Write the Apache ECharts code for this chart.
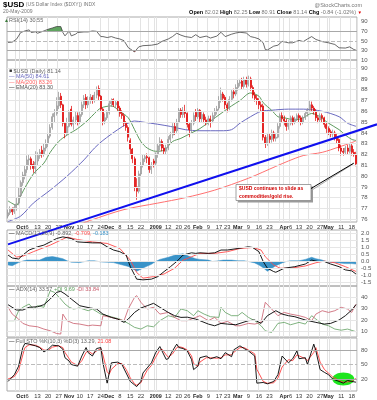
<!DOCTYPE html>
<html>
<head>
<meta charset="utf-8">
<script src="https://cdn.jsdelivr.net/npm/echarts@6/dist/echarts.min.js"></script>
<style>
html, body { margin: 0; padding: 0; background: #fff; }
#chart { width: 377px; height: 400px; }
</style>
</head>
<body>
<div id="chart"></div>
<script>
// 交易日 (2008-09-23 ~ 2009-05-20, 去掉周末和假日)
var holidays = ['2008-11-27', '2008-12-25', '2009-01-01', '2009-01-19', '2009-02-16', '2009-04-10'];
var days = [];
(function () {
    var d = new Date(Date.UTC(2008, 8, 23));
    var end = Date.UTC(2009, 4, 20);
    while (d.getTime() <= end) {
        var s = d.toISOString().slice(0, 10);
        var wd = d.getUTCDay();
        if (wd !== 0 && wd !== 6 && holidays.indexOf(s) < 0) days.push(s);
        d.setUTCDate(d.getUTCDate() + 1);
    }
})();

// x轴刻度标签
var tickDates = ['2008-10-01', '2008-10-06', '2008-10-13', '2008-10-20', '2008-10-27', '2008-11-03', '2008-11-10', '2008-11-17', '2008-11-24',
    '2008-12-01', '2008-12-08', '2008-12-15', '2008-12-22', '2009-01-02', '2009-01-12', '2009-01-20', '2009-01-26', '2009-02-02',
    '2009-02-09', '2009-02-17', '2009-02-23', '2009-03-02', '2009-03-09', '2009-03-16', '2009-03-23', '2009-04-01', '2009-04-06',
    '2009-04-13', '2009-04-20', '2009-04-27', '2009-05-01', '2009-05-11', '2009-05-18'];
var tickTexts = ['Oct', '6', '13', '20', '27', 'Nov', '10', '17', '24', 'Dec', '8', '15', '22', '2009', '12', '20', '26', 'Feb',
    '9', '17', '23', 'Mar', '9', '16', '23', 'Apr', '6', '13', '20', '27', 'May', '11', '18'];
var priceTicks = [76, 77, 78, 79, 80, 81, 82, 83, 84, 85, 86, 87, 88, 89, 90];

// 日K数据
var opens = [76.3, 76.6, 76.9, 76.7, 77.1, 77.5, 78.2, 79.4, 80.0, 80.6,
    81.5, 81.6, 81.1, 80.7, 81.4, 81.9, 82.4, 82.0, 82.6, 83.0,
    83.7, 84.5, 85.5, 85.8, 86.5, 87.4, 86.6, 84.9, 84.0, 84.6,
    86.2, 84.8, 85.2, 85.6, 85.0, 85.7, 86.6, 87.3, 86.6, 87.0,
    87.3, 87.0, 87.5, 88.1, 87.4, 86.2, 85.1, 85.4, 85.9, 86.7,
    87.1, 86.6, 86.9, 86.3, 85.8, 85.6, 84.9, 84.5, 83.3, 82.5,
    81.6, 79.0, 78.6, 80.2, 81.0, 81.6, 81.8, 81.7, 80.6, 81.4,
    81.2, 82.0, 82.8, 83.2, 82.6, 82.3, 82.6, 83.4, 83.8, 84.6,
    84.2, 85.0, 86.1, 85.7, 86.0, 85.8, 84.8, 84.3, 84.9, 85.9,
    85.5, 86.1, 85.3, 85.7, 85.2, 85.0, 85.3, 85.1, 85.6, 86.0,
    86.3, 87.0, 87.6, 87.3, 86.6, 86.3, 87.1, 87.8, 87.6, 88.2,
    88.6, 88.8, 88.3, 88.9, 88.5, 89.0, 88.2, 87.5, 87.2, 87.0,
    86.6, 86.5, 83.6, 83.0, 83.7, 83.4, 84.0, 83.5, 83.6, 84.6,
    85.6, 85.3, 85.1, 84.6, 84.9, 85.4, 85.0, 85.3, 85.6, 85.4,
    85.0, 85.4, 85.8, 86.1, 86.6, 86.3, 86.0, 85.4, 85.2, 85.6,
    85.4, 84.8, 84.4, 84.1, 83.9, 84.0, 83.6, 83.4, 82.6, 82.3,
    82.2, 82.6, 82.3, 82.8, 82.2, 82.02];
var closes = [76.6, 76.9, 76.7, 77.1, 77.4, 78.2, 79.4, 80.1, 80.6, 81.5,
    81.6, 81.0, 80.7, 81.3, 81.9, 82.2, 82.0, 82.6, 83.0, 83.7,
    84.5, 85.5, 85.8, 86.5, 87.3, 86.6, 84.9, 84.0, 84.6, 85.9,
    84.8, 85.2, 85.6, 85.0, 85.7, 86.6, 87.2, 86.6, 87.0, 87.3,
    87.0, 87.5, 88.0, 87.4, 86.2, 85.1, 85.4, 85.9, 86.7, 86.9,
    86.6, 86.8, 86.3, 85.8, 85.6, 84.9, 84.5, 83.6, 82.5, 81.6,
    79.0, 78.6, 80.2, 81.0, 81.6, 81.8, 81.7, 80.6, 81.0, 81.2,
    82.0, 82.8, 83.2, 82.6, 82.3, 82.6, 83.4, 83.8, 84.6, 84.2,
    85.0, 86.1, 85.7, 86.0, 85.8, 84.8, 84.3, 84.9, 85.6, 85.5,
    86.1, 85.3, 85.7, 85.2, 85.0, 85.3, 85.1, 85.6, 86.0, 86.2,
    87.0, 87.6, 87.2, 86.6, 86.3, 87.1, 87.8, 87.6, 88.2, 88.6,
    88.7, 88.3, 88.9, 88.5, 89.0, 88.2, 87.5, 87.2, 87.0, 86.6,
    86.4, 83.6, 83.0, 83.6, 83.4, 84.0, 83.5, 83.6, 84.6, 85.6,
    85.3, 85.1, 84.6, 84.9, 85.4, 85.0, 85.3, 85.6, 85.4, 85.0,
    85.4, 85.8, 86.1, 86.6, 86.3, 86.0, 85.4, 85.2, 85.6, 85.4,
    84.8, 84.4, 84.1, 83.9, 84.0, 83.6, 83.3, 82.6, 82.3, 82.2,
    82.6, 82.3, 82.8, 82.2, 81.98, 81.14];
var lows = [76.1, 76.4, 76.4, 76.5, 76.8, 77.3, 78.0, 79.1, 79.7, 80.3,
    81.0, 80.6, 80.3, 80.2, 81.0, 81.6, 81.7, 81.8, 82.3, 82.7,
    83.5, 84.3, 85.0, 85.6, 86.2, 86.3, 84.6, 83.5, 83.7, 84.5,
    84.6, 84.3, 84.8, 84.7, 84.8, 85.5, 86.3, 86.2, 86.3, 86.7,
    86.7, 86.8, 87.2, 87.0, 86.0, 84.7, 84.8, 85.2, 85.7, 86.4,
    86.4, 86.3, 86.0, 85.5, 85.3, 84.6, 84.2, 83.2, 82.0, 81.2,
    78.6, 77.8, 78.4, 80.0, 80.8, 81.3, 81.2, 80.3, 80.2, 80.8,
    81.0, 81.7, 82.4, 82.3, 82.0, 82.0, 82.4, 83.1, 83.5, 83.8,
    84.0, 84.9, 85.4, 85.4, 85.4, 84.5, 83.6, 84.0, 84.7, 85.1,
    85.3, 85.0, 85.0, 84.9, 84.7, 84.7, 84.5, 84.9, 85.3, 85.7,
    86.1, 86.8, 86.9, 86.2, 85.9, 86.1, 86.9, 87.2, 87.4, 87.9,
    88.3, 88.0, 88.1, 88.2, 88.3, 87.9, 87.2, 86.9, 86.6, 86.2,
    86.0, 83.3, 82.6, 82.8, 83.0, 83.1, 83.2, 83.2, 83.5, 84.4,
    85.0, 84.7, 84.2, 84.3, 84.7, 84.7, 84.8, 85.1, 85.0, 84.7,
    84.8, 85.2, 85.5, 85.9, 86.0, 85.7, 85.1, 84.9, 85.0, 85.0,
    84.5, 84.0, 83.8, 83.6, 83.6, 83.3, 83.0, 82.3, 81.9, 81.9,
    82.0, 82.0, 82.1, 81.9, 81.8, 80.91];
var highs = [76.9, 77.2, 77.1, 77.4, 78.0, 78.9, 79.6, 80.4, 81.0, 81.9,
    82.0, 81.8, 81.4, 82.3, 82.2, 82.5, 82.8, 83.0, 83.4, 84.0,
    84.8, 85.8, 86.2, 87.3, 87.8, 87.7, 86.7, 85.0, 85.4, 86.1,
    86.5, 85.5, 86.0, 85.9, 86.0, 86.9, 87.5, 87.6, 87.4, 87.6,
    87.5, 87.8, 88.3, 88.4, 87.5, 86.3, 85.8, 86.1, 87.0, 87.2,
    87.2, 87.0, 87.0, 86.5, 86.1, 85.8, 85.1, 84.7, 83.5, 82.6,
    81.8, 79.8, 80.5, 81.3, 82.0, 82.0, 82.1, 81.8, 81.3, 81.6,
    82.2, 83.0, 83.6, 83.4, 82.9, 82.9, 83.7, 84.1, 84.9, 85.0,
    85.3, 86.3, 86.3, 86.4, 86.6, 85.9, 85.0, 85.2, 85.9, 86.2,
    86.3, 86.2, 86.0, 85.9, 85.5, 85.6, 85.6, 85.9, 86.3, 86.5,
    87.4, 88.2, 87.8, 87.5, 86.8, 87.4, 88.0, 88.1, 88.5, 88.9,
    89.0, 89.1, 89.2, 89.2, 89.3, 89.2, 88.4, 87.8, 87.5, 87.2,
    86.9, 86.7, 83.8, 84.0, 83.9, 84.3, 84.2, 84.0, 84.9, 85.8,
    85.9, 85.6, 85.3, 85.2, 85.6, 85.6, 85.5, 85.8, 85.8, 85.6,
    85.6, 86.0, 86.3, 87.0, 86.9, 86.5, 86.2, 85.6, 85.8, 85.8,
    85.5, 85.0, 84.6, 84.3, 84.3, 84.2, 83.9, 83.5, 82.9, 82.6,
    82.8, 82.9, 83.0, 83.0, 82.5, 82.25];

// 均线 [交易日序号, 值]
var ema20 = [[0, 77.7], [4, 77.3], [6, 78.2], [12, 80.2], [17, 81.2], [20, 82.2], [24, 83.2], [28, 83.8], [33, 84.4], [38, 85.2],
    [41, 85.8], [44, 86.3], [49, 86.5], [53, 86.0], [57, 85.4], [60, 84.3], [63, 83.2], [66, 82.6], [70, 82.3], [74, 82.4],
    [78, 83.2], [82, 83.5], [87, 84.0], [91, 84.4], [96, 85.1], [101, 85.8], [106, 86.5], [110, 87.0], [115, 87.7], [119, 87.4],
    [121, 86.8], [125, 86.1], [128, 85.5], [131, 85.4], [136, 85.2], [140, 85.4], [144, 85.8], [147, 85.6], [152, 84.9],
    [157, 84.3], [160, 83.8], [163, 83.4], [165, 83.3]];
var ma50 = [[0, 75.8], [6, 76.3], [12, 77.5], [20, 78.7], [28, 80.0], [36, 81.5], [41, 82.6], [45, 83.3], [52, 84.3], [57, 84.9],
    [60, 85.1], [64, 85.0], [71, 84.8], [77, 84.6], [84, 84.3], [91, 84.2], [101, 84.2], [106, 84.3], [110, 84.9], [115, 85.5],
    [120, 86.0], [125, 86.1], [133, 86.2], [140, 86.2], [149, 86.0], [157, 85.5], [161, 84.9], [165, 84.61]];
var ma200 = [[35, 75.6], [39, 75.9], [55, 76.9], [71, 77.5], [84, 78.0], [98, 78.7], [114, 79.8], [127, 80.9], [133, 81.4],
    [140, 81.9], [149, 82.2], [157, 82.7], [163, 83.1], [165, 83.26]];
var trendAnchors = [[85, 79.08], [165, 84.16]];
var notePoint = [164, 81.2];

// RSI(14)
var rsi = [[0, 46.7], [2, 47.5], [4, 53.5], [6, 67.5], [8, 70.8], [10, 73], [11, 67.5], [13, 69], [14, 66], [17, 70.8],
    [19, 74.3], [21, 77], [23, 80], [25, 80], [26, 67.5], [27, 60.5], [29, 70.8], [30, 60.5], [32, 64], [33, 67.5],
    [36, 68.8], [38, 68.8], [40, 70.8], [42, 70], [44, 59], [45, 59], [47, 57], [49, 59], [51, 56], [53, 54],
    [55, 50.4], [57, 36], [60, 27], [62, 37.5], [64, 40], [68, 41], [71, 43.4], [73, 49], [76, 54], [78, 59],
    [80, 66], [82, 62], [84, 59], [87, 57], [89, 63], [91, 57], [94, 60], [96, 56], [99, 60], [101, 68],
    [103, 59], [106, 64], [108, 66.5], [110, 68], [113, 66.5], [115, 59], [117, 57], [119, 54], [121, 46], [122, 32],
    [123, 31], [126, 39], [128, 41], [130, 49], [133, 46], [135, 46], [138, 51], [140, 48.5], [142, 54], [144, 59],
    [146, 53], [149, 48.5], [152, 46], [155, 42.5], [157, 35.5], [160, 35], [162, 37.5], [164, 32], [165, 30.55]];
var rsiOver = [[18, 70], [19, 74.3], [21, 77], [23, 80], [25, 80], [26, 70]];
var rsiUnder = [[59, 30], [60, 27], [61, 30]];

// MACD(12,26,9)
var macdLine = [[0, 0.46], [2, 0.25], [5, 0.18], [7, 0.46], [10, 0.82], [14, 1.05], [17, 1.17], [20, 1.4], [23, 1.64], [26, 1.76],
    [28, 1.7], [30, 1.64], [33, 1.4], [37, 1.36], [40, 1.33], [44, 1.33], [47, 1.05], [50, 0.82], [53, 0.7], [56, 0.46],
    [58, -0.37], [60, -0.96], [61, -1.26], [64, -1.31], [68, -1.26], [71, -1.08], [74, -0.72], [77, -0.37], [80, 0], [83, 0.46],
    [87, 0.62], [89, 0.58], [91, 0.62], [95, 0.58], [98, 0.62], [101, 0.82], [104, 0.82], [109, 0.93], [114, 1.05], [116, 1.0],
    [119, 0.7], [121, 0], [123, -0.48], [126, -0.72], [127, -0.77], [131, -0.48], [136, -0.37], [141, -0.18], [144, 0.1],
    [147, 0], [150, 0], [153, -0.18], [157, -0.37], [160, -0.6], [163, -0.67], [165, -0.892]];
var macdSignal = [[0, 0.82], [4, 0.32], [7, 0.38], [12, 0.7], [20, 1.17], [28, 1.74], [33, 1.57], [40, 1.4], [47, 1.29], [53, 0.93],
    [58, 0.1], [61, -0.79], [64, -1.19], [69, -1.08], [74, -0.89], [79, -0.48], [83, 0.1], [87, 0.34], [91, 0.58], [98, 0.58],
    [104, 0.7], [110, 0.93], [116, 1.0], [120, 0.82], [122, 0.34], [126, -0.25], [129, -0.48], [134, -0.48], [141, -0.32],
    [146, -0.09], [150, 0.03], [155, -0.09], [160, -0.37], [165, -0.709]];
var macdHist = [[0, -0.25], [2, -0.3], [5, -0.08], [7, 0.04], [9, 0.1], [13, 0.1], [15, 0.1], [18, 0.3], [21, 0.35], [23, 0.3],
    [26, 0.2], [28, 0.05], [30, -0.05], [34, -0.08], [38, 0.05], [41, 0.05], [44, -0.03], [47, -0.05], [50, -0.08], [53, -0.2],
    [57, -0.35], [60, -0.6], [61, -0.7], [63, -0.55], [65, -0.4], [68, -0.2], [70, 0], [72, 0.15], [76, 0.3], [80, 0.5],
    [83, 0.55], [87, 0.3], [89, 0.2], [91, 0.15], [95, 0.1], [97, 0], [100, 0.05], [102, 0.1], [106, 0.1], [109, 0.05],
    [112, 0.05], [114, 0], [117, -0.1], [119, -0.25], [121, -0.45], [123, -0.7], [125, -0.5], [127, -0.3], [130, -0.1],
    [132, 0], [134, 0.05], [138, 0.05], [141, 0.15], [144, 0.3], [146, 0.2], [149, 0.1], [152, -0.05], [157, -0.1],
    [160, -0.15], [163, -0.15], [165, -0.183]];

// ADX(14)
var adx = [[0, 33.5], [4, 28.8], [7, 28.8], [10, 31.2], [14, 31.7], [17, 33.5], [20, 38.5], [23, 44.4], [25, 45.3], [27, 43],
    [30, 38.5], [34, 32.6], [39, 30.6], [42, 29.7], [45, 25.2], [49, 22.3], [52, 20.8], [55, 17.9], [57, 20.8], [60, 26.7],
    [63, 30.6], [66, 32.6], [69, 34.7], [72, 31.2], [76, 26.7], [79, 23.8], [82, 22.3], [85, 22.5], [89, 20.8], [91, 19.4],
    [95, 16.4], [98, 14.9], [101, 17], [104, 16.4], [108, 15.8], [110, 17], [114, 19.4], [117, 20], [120, 17], [123, 23.8],
    [127, 28.2], [130, 25.2], [133, 23.8], [136, 22.9], [141, 20], [146, 17.9], [150, 16.4], [153, 17], [157, 20],
    [160, 23.8], [163, 28.8], [165, 33.57]];
var plusDI = [[0, 19.4], [3, 19.4], [5, 28.2], [7, 31.2], [10, 34.1], [12, 29.7], [14, 32.6], [17, 31.2], [20, 45.9], [22, 44.4],
    [25, 38.5], [27, 34.1], [29, 31.2], [31, 29.7], [34, 30.6], [38, 28.2], [40, 29.7], [44, 25.2], [47, 23.8], [50, 22.3],
    [53, 20.8], [57, 17], [60, 13.5], [63, 12], [66, 14.9], [69, 14], [72, 19.4], [76, 23.8], [79, 22.3], [82, 29.7],
    [85, 28.2], [88, 23.8], [90, 28.2], [93, 25.2], [96, 22.9], [100, 22.3], [101, 31.2], [103, 26.7], [106, 23.8], [109, 23.8],
    [111, 26.7], [114, 22.3], [117, 19.4], [120, 14.9], [122, 10.5], [125, 9], [128, 17], [131, 17.9], [134, 15.8], [138, 17.9],
    [141, 16.4], [144, 23.8], [146, 20.8], [149, 16.4], [152, 14.9], [155, 12], [158, 11], [161, 12], [165, 9.69]];
var minusDI = [[0, 31.2], [2, 25.2], [5, 20.8], [7, 17], [10, 14.9], [14, 14], [17, 12], [20, 10.5], [23, 8.1], [25, 7.6],
    [26, 25.2], [28, 19.4], [31, 17], [34, 16.4], [38, 14.9], [40, 15.5], [44, 14.9], [45, 23.8], [49, 22.3], [52, 20.8],
    [55, 19.4], [57, 29.7], [60, 40], [61, 41.5], [63, 35.6], [66, 29.7], [69, 31.2], [72, 25.2], [76, 26.7], [79, 22.3],
    [82, 19.4], [85, 19.4], [89, 22.3], [91, 23.8], [95, 19.4], [98, 22.3], [101, 17], [104, 18.8], [108, 14.9], [110, 14.9],
    [114, 17], [117, 16.4], [120, 17.9], [122, 35.6], [125, 29.7], [128, 23.8], [131, 26.7], [134, 25.2], [138, 23.8],
    [141, 22.3], [144, 19.4], [146, 25.2], [149, 28.2], [152, 26.7], [155, 28.2], [158, 31.2], [161, 29.7], [163, 26.7],
    [165, 33.84]];

// Full STO %K(10,3) %D(3)
var stoK = [[0, 14.8], [3, 28.9], [5, 46.5], [7, 85.2], [8, 93.7], [10, 92.3], [13, 88.7], [15, 85.2], [17, 76], [19, 81.7],
    [21, 90.1], [24, 88.7], [26, 81.7], [27, 64.1], [29, 57], [30, 50], [33, 46.5], [35, 67.6], [37, 85.2], [38, 74.6],
    [40, 67.6], [42, 83.1], [44, 85.2], [45, 53.5], [47, 11.3], [48, 32.4], [49, 53.5], [52, 54.9], [54, 50], [56, 32.4],
    [58, 14.8], [60, 7.7], [61, 4.2], [63, 14.8], [64, 32.4], [66, 43], [68, 53.5], [70, 74.6], [72, 87.3], [73, 78.2],
    [75, 60.6], [76, 62], [78, 78.2], [80, 92.3], [81, 85.2], [83, 83.1], [85, 78.2], [87, 60.6], [88, 39.4], [90, 46.5],
    [91, 64.1], [94, 67.6], [96, 62], [99, 66.2], [101, 62], [103, 74.6], [106, 66.2], [107, 80.3], [110, 88.7], [112, 83.1],
    [114, 78.2], [117, 67.6], [118, 11.3], [121, 12.7], [123, 9.9], [126, 14.8], [128, 28.9], [130, 67.6], [133, 53.5],
    [135, 62], [137, 78.2], [138, 62], [141, 64.1], [142, 50], [145, 92.3], [146, 78.2], [148, 39.4], [150, 33.8], [152, 28.9],
    [154, 19.7], [157, 14.8], [159, 11.3], [161, 16.9], [163, 14.8], [165, 13.29]];
var stoD = [[0, 20], [3, 25], [5, 38], [7, 70], [8, 85], [10, 91], [13, 90], [15, 86], [17, 80], [19, 79],
    [21, 86], [24, 89], [26, 85], [27, 75], [29, 62], [30, 55], [33, 48], [35, 58], [37, 75], [38, 78],
    [40, 72], [42, 78], [44, 83], [45, 70], [47, 35], [48, 30], [49, 40], [52, 52], [54, 52], [56, 40],
    [58, 22], [60, 10], [61, 7], [63, 12], [64, 22], [66, 38], [68, 48], [70, 65], [72, 80], [73, 82],
    [75, 70], [76, 65], [78, 72], [80, 85], [81, 87], [83, 85], [85, 80], [87, 68], [88, 52], [90, 46],
    [91, 55], [94, 64], [96, 64], [99, 63], [101, 64], [103, 70], [106, 70], [107, 75], [110, 85], [112, 85],
    [114, 80], [117, 72], [118, 40], [121, 15], [123, 11], [126, 12], [128, 22], [130, 45], [133, 60],
    [135, 58], [137, 70], [138, 68], [141, 62], [142, 58], [145, 75], [146, 85], [148, 55], [150, 40], [152, 32],
    [154, 24], [157, 17], [159, 13], [161, 14], [163, 15], [165, 21.08]];
var circlePoint = [159, 20];

(function () {
    var chart = echarts.init(document.getElementById('chart'));
    var FONT = 'Liberation Sans, Arial, sans-serif';

    // 周一 / 月初 位置画竖线
    var gridDay = days.map(function (s, i) {
        if (i === 0) return false;
        var a = new Date(s + 'T00:00:00Z'), b = new Date(days[i - 1] + 'T00:00:00Z');
        return a.getUTCDay() <= b.getUTCDay() || a.getUTCMonth() !== b.getUTCMonth();
    });

    var candles = opens.map(function (o, i) {
        return [o, closes[i], lows[i], highs[i]];
    });

    var tops = [17, 60, 230, 286, 338];
    var heights = [43, 162, 56, 51, 53];
    var grids = tops.map(function (t, k) {
        return { left: 7, width: 350, top: t, height: heights[k], show: true, borderColor: '#aaa', borderWidth: 1 };
    });

    var xAxes = tops.map(function (t, k) {
        return {
            type: 'category', gridIndex: k, data: days, boundaryGap: true,
            axisLine: { show: false }, axisTick: { show: false },
            axisLabel: {
                show: k === 1 || k === 4,
                showMinLabel: true, showMaxLabel: true, hideOverlap: false,
                interval: function (i, v) { return tickDates.indexOf(v) >= 0; },
                formatter: function (v) {
                    var t = tickTexts[tickDates.indexOf(v)];
                    return /^\d{1,2}$/.test(t) ? '{n|' + t + '}' : '{m|' + t + '}';
                },
                fontSize: 5.5, color: '#333', margin: 2, fontFamily: FONT, lineHeight: 7,
                rich: {
                    m: { fontWeight: 'bold', fontSize: 5.4, lineHeight: 7, color: '#222', fontFamily: FONT },
                    n: { fontSize: 5.8, lineHeight: 7, color: '#333', fontFamily: FONT }
                }
            },
            splitLine: { show: true, interval: function (i) { return gridDay[i]; }, lineStyle: { color: '#e3e3e3', width: 1 } }
        };
    });

    function yAxis(k, min, max, interval, fmt) {
        return {
            type: 'value', gridIndex: k, position: 'right', min: min, max: max, interval: interval, scale: true,
            axisLine: { show: false }, axisTick: { show: false }, splitLine: { show: false },
            axisLabel: { fontSize: 6, color: '#555', margin: 4, fontFamily: FONT, formatter: fmt }
        };
    }
    var yAxes = [
        yAxis(0, 10, 100, 10, function (v) { return v % 20 === 10 ? v : ''; }),
        yAxis(1, 75.75, 90.75, 0.25, function (v) { return Number.isInteger(v) ? v : ''; }),
        yAxis(2, -1.75, 2.25, 0.25, function (v) { return Math.abs(v * 2 - Math.round(v * 2)) < 1e-6 ? v.toFixed(1) : ''; }),
        yAxis(3, 5, 50, 5, function (v) { return v % 10 === 0 && v < 50 ? v : ''; }),
        yAxis(4, -5, 105, 5, function (v) { return v === 20 || v === 50 || v === 80 ? v : ''; })
    ];

    // 水平参考线
    function hLines(k, values, color, type) {
        return {
            type: 'line', xAxisIndex: k, yAxisIndex: k, data: [], silent: true, z: 1,
            markLine: {
                symbol: 'none', silent: true, animation: false, label: { show: false },
                lineStyle: { color: color, width: 1, type: type || 'solid' },
                data: values.map(function (v) { return { yAxis: v }; })
            }
        };
    }
    function line(k, data, color, width, smooth) {
        return {
            type: 'line', xAxisIndex: k, yAxisIndex: k, data: data, symbol: 'none', z: 3,
            smooth: smooth || false, lineStyle: { color: color, width: width }
        };
    }

    var series = [
        hLines(0, [70, 30], '#a8a8a8'),
        hLines(0, [50], '#bbb', 'dashed'),
        hLines(1, priceTicks, '#e6e6e6'),
        hLines(2, [-1.5, -1, -0.5, 0, 0.5, 1, 1.5, 2], '#e6e6e6'),
        hLines(3, [10, 20, 30, 40], '#e6e6e6'),
        hLines(4, [80, 20], '#a8a8a8'),
        hLines(4, [50], '#bbb', 'dashed'),
        // RSI
        { type: 'line', xAxisIndex: 0, yAxisIndex: 0, data: rsiOver, symbol: 'none', z: 2, lineStyle: { width: 0 },
          areaStyle: { color: '#4f9a4f', origin: 70, opacity: 0.9 } },
        { type: 'line', xAxisIndex: 0, yAxisIndex: 0, data: rsiUnder, symbol: 'none', z: 2, lineStyle: { width: 0 },
          areaStyle: { color: '#d04040', origin: 30, opacity: 0.9 } },
        line(0, rsi, '#444', 0.8),
        // 价格
        {
            type: 'candlestick', xAxisIndex: 1, yAxisIndex: 1, data: candles, barWidth: 1.5, z: 3,
            itemStyle: { color: '#ececec', borderColor: '#8c8c8c', color0: '#e00000', borderColor0: '#e00000', borderWidth: 0.7 }
        },
        line(1, ma200, '#ff7070', 1, 0.3),
        line(1, ma50, '#6a6ac0', 1, 0.3),
        line(1, ema20, '#5e9a5e', 1, 0.3),
        // MACD
        { type: 'line', xAxisIndex: 2, yAxisIndex: 2, data: macdHist, symbol: 'none', z: 2,
          lineStyle: { color: '#3a93c8', width: 0.5 }, areaStyle: { color: '#3a93c8', opacity: 1 } },
        line(2, macdSignal, '#ff4a4a', 0.9),
        line(2, macdLine, '#000', 0.9),
        // ADX
        line(3, plusDI, '#5fa05f', 0.8),
        line(3, minusDI, '#c85a6a', 0.8),
        line(3, adx, '#000', 0.9),
        // STO
        line(4, stoD, '#ff4040', 0.9),
        line(4, stoK, '#000', 0.9)
    ];

    chart.setOption({
        animation: false,
        backgroundColor: '#fff',
        textStyle: { fontFamily: FONT },
        grid: grids,
        xAxis: xAxes,
        yAxis: yAxes,
        series: series
    });

    // 标注图形: 趋势线 / 文字框 / 绿色椭圆
    var a = chart.convertToPixel({ gridIndex: 1 }, trendAnchors[0]);
    var b = chart.convertToPixel({ gridIndex: 1 }, trendAnchors[1]);
    var slope = (b[1] - a[1]) / (b[0] - a[0]);
    var tx1 = 8, tx2 = 377;
    var np = chart.convertToPixel({ gridIndex: 1 }, notePoint);
    var cp = chart.convertToPixel({ gridIndex: 4 }, circlePoint);

    function txt(x, y, text, rich, align) {
        return {
            type: 'text', x: x, y: y, z: 50,
            style: { text: text, rich: rich, align: align || 'left', verticalAlign: 'middle', fontFamily: FONT, fontSize: 5.5, fill: '#555' }
        };
    }
    var S = function (fill, size, bold) {
        return { fill: fill, fontSize: size || 5.5, fontWeight: bold ? 'bold' : 'normal', fontFamily: FONT };
    };

    chart.setOption({
        graphic: [
            { type: 'ellipse', shape: { cx: cp[0], cy: cp[1], rx: 11, ry: 6.5 }, style: { fill: '#1ee61e' }, z: 1 },
            { type: 'line', z: 40, shape: { x1: tx1, y1: a[1] + (tx1 - a[0]) * slope, x2: tx2, y2: a[1] + (tx2 - a[0]) * slope },
              style: { stroke: '#1010ee', lineWidth: 2 } },
            // 说明文字框
            { type: 'rect', z: 44, shape: { x: 238, y: 186.5, width: 75, height: 16 }, style: { fill: '#9a9a9a' } },
            { type: 'rect', z: 45, shape: { x: 236, y: 184.5, width: 75, height: 16 }, style: { fill: '#fff', stroke: '#8a8a8a', lineWidth: 0.8 } },
            { type: 'line', z: 44, shape: { x1: 312, y1: 190, x2: np[0] - 1, y2: np[1] + 1 }, style: { stroke: '#aaa', lineWidth: 1 } },
            { type: 'line', z: 45, shape: { x1: 311, y1: 188.5, x2: np[0], y2: np[1] }, style: { stroke: '#000', lineWidth: 1 } },
            txt(239, 189, '{r|$USD continues to slide as}', { r: S('#d00000', 5, true) }),
            txt(239, 196.5, '{r|commodities/gold rise.}', { r: S('#d00000', 5, true) }),
            // 标题
            txt(3, 5, '{h|$USD} {n|(US Dollar Index ($DXY)) INDX}', { h: S('#000', 8, true), n: S('#777', 5) }),
            txt(362, 5, '{n|@StockCharts.com}', { n: S('#777', 5.5) }, 'right'),
            txt(3, 12, '{n|20-May-2009}', { n: S('#777', 5) }),
            txt(362, 12.5, '{b|Open} {v|82.02} {b|High} {v|82.25} {b|Low} {v|80.91} {b|Close} {v|81.14} {b|Chg} {v|-0.84 (-1.02%)} {r|▼}',
                { b: S('#000', 5.5, true), v: S('#777', 5.5), r: S('#e00000', 4.5) }, 'right'),
            // 图例
            txt(4, 20.5, '{g|▲}{t|RSI(14) 30.55}', { g: S('#3a7a3a', 5), t: S('#666', 5.5) }),
            txt(9, 71, '{k|■} {t|$USD (Daily) 81.14}', { k: S('#333', 5), t: S('#666', 5.5) }),
            txt(9, 76.5, '{c|— MA(50) 84.61}', { c: S('#6a6ac0', 5.5) }),
            txt(9, 82, '{c|— MA(200) 83.26}', { c: S('#ff6060', 5.5) }),
            txt(9, 87.5, '{k|—} {t|EMA(20) 83.30}', { k: S('#000', 5.5), t: S('#555', 5.5) }),
            txt(9, 233.5, '{k|—} {t|MACD(12,26,9) -0.892,} {r|-0.709,} {b|-0.183}',
                { k: S('#000', 5.5), t: S('#666', 5.5), r: S('#ff4a4a', 5.5), b: S('#3a93c8', 5.5) }),
            txt(9, 289, '{k|—} {t|ADX(14) 33.57} {g|+DI 9.69} {r|-DI 33.84}',
                { k: S('#000', 5.5), t: S('#666', 5.5), g: S('#5fa05f', 5.5), r: S('#c85a6a', 5.5) }),
            txt(9, 341.5, '{k|—} {t|Full STO %K(10,3) %D(3) 13.29,} {r|21.08}',
                { k: S('#000', 5.5), t: S('#666', 5.5), r: S('#ff4040', 5.5) })
        ]
    });

    window.addEventListener('resize', function () {
        chart.resize();
    });
})();
</script>
</body>
</html>
